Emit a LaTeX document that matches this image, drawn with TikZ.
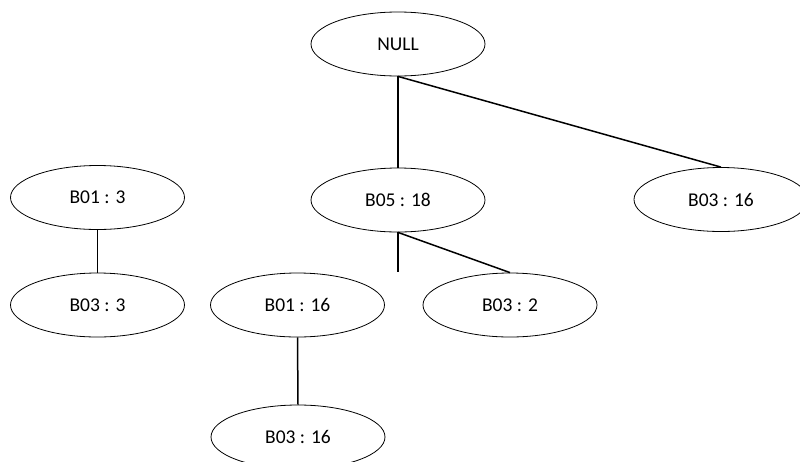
\documentclass[tikz,border=0pt]{standalone}
\usepackage{fontspec}
\setmainfont{Carlito}
\usetikzlibrary{shapes.geometric}
\begin{document}
\begin{tikzpicture}[x=1pt,y=-1pt,
  oval/.style={ellipse,draw,line width=0.8pt,minimum width=174pt,minimum height=64pt,inner sep=0pt,font=\fontsize{19.5}{22}\selectfont},
  link/.style={line width=1.5pt}]
\useasboundingbox (0,0) rectangle (800,461);
\clip (0,0) rectangle (800,461);
\node[oval] (null) at (398,44) {NULL};
\node[oval] (b01a) at (97.5,197.5) {B01 : 3};
\node[oval] (b03a) at (97.5,305) {B03 : 3};
\node[oval] (b05) at (398,200) {B05 : 18};
\node[oval] (b03r) at (721,199.5) {B03 : 16};
\node[oval] (b01b) at (297.5,305) {B01 : 16};
\node[oval] (b03b) at (510,305) {B03 : 2};
\node[oval] (b03c) at (298,437) {B03 : 16};
\coordinate (dang) at (398,272);
\draw[link] (null.south) -- (b05.north);
\draw[link] (null.south) -- (b03r.north);
\draw[link] (b05.south) -- (dang);
\draw[link] (b05.south) -- (b03b.north);
\draw[link] (b01a.south) -- (b03a.north);
\draw[link] (b01b.south) -- (b03c.north);
\end{tikzpicture}
\end{document}
